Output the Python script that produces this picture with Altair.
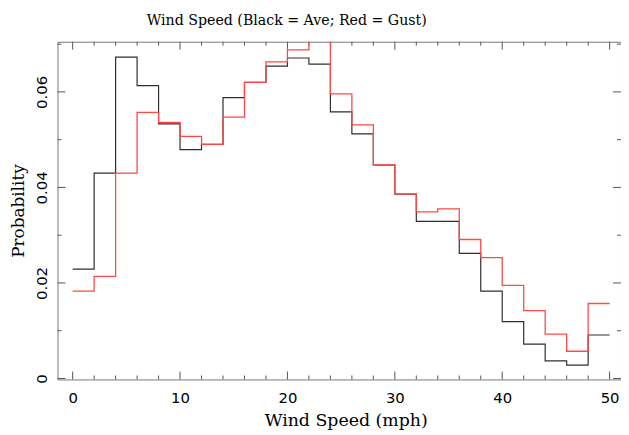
import altair as alt
import pandas as pd

# ---- data ----
bin_left = list(range(0, 50, 2))          # bin starts 0..48, width 2 mph
bin_end = 50
ave = [0.0229, 0.0430, 0.0673, 0.0613, 0.0533, 0.0479, 0.0490, 0.0588, 0.0620, 0.0654,
       0.0671, 0.0658, 0.0558, 0.0512, 0.0447, 0.0386, 0.0329, 0.0329, 0.0262, 0.0183,
       0.0119, 0.0072, 0.0037, 0.0028, 0.0091]
gust = [0.0183, 0.0214, 0.0430, 0.0557, 0.0536, 0.0507, 0.0490, 0.0547, 0.0620, 0.0663,
        0.0688, 0.0725, 0.0596, 0.0531, 0.0447, 0.0386, 0.0349, 0.0355, 0.0291, 0.0253,
        0.0195, 0.0142, 0.0093, 0.0057, 0.0157]

x_major = [0, 10, 20, 30, 40, 50]
x_minor = [v for v in range(0, 51, 2) if v % 10 != 0]
y_major = [0, 0.02, 0.04, 0.06]
y_minor = [0.01, 0.03, 0.05, 0.07]

W, H = 569, 341
xdom = [-1.41, 51.06]
ydom = [-0.0002, 0.0705]

def steps(vals):
    return pd.DataFrame({"x": bin_left + [bin_end], "p": vals + [vals[-1]]})

xs = alt.Scale(domain=xdom, nice=False, zero=False)
ys = alt.Scale(domain=ydom, nice=False, zero=False)

xaxis = alt.Axis(values=x_major, ticks=False, tickSize=0, domain=False, grid=False,
                 labelFont="DejaVu Sans", labelFontSize=15, labelColor="black",
                 labelBaseline="alphabetic", labelPadding=23,
                 title="Wind Speed (mph)", titleFont="DejaVu Serif", titleFontSize=17.5,
                 titleFontWeight="normal", titleColor="black",
                 titleBaseline="alphabetic", titleY=46.7, titleX=291, titleAlign="center")
yaxis = alt.Axis(values=y_major, format=".2~f", ticks=False, tickSize=0, domain=False, grid=False,
                 labelFont="DejaVu Sans", labelFontSize=15, labelColor="black",
                 labelAngle=270, labelAlign="center", labelBaseline="alphabetic", labelPadding=11,
                 title="Probability", titleFont="DejaVu Serif", titleFontSize=17,
                 titleFontWeight="normal", titleColor="black", titleAngle=270,
                 titleX=-34, titleY=H / 2, titleAlign="center", titleBaseline="alphabetic")

black = alt.Chart(steps(ave)).mark_line(interpolate="step-after", color="#2e2e2e",
                                        strokeWidth=1.2, clip=True).encode(
    x=alt.X("x:Q", scale=xs, axis=xaxis),
    y=alt.Y("p:Q", scale=ys, axis=yaxis),
)
red = alt.Chart(steps(gust)).mark_line(interpolate="step-after", color="#ff4848",
                                       strokeWidth=1.3, clip=True).encode(
    x=alt.X("x:Q", scale=xs),
    y=alt.Y("p:Q", scale=ys),
)

tick_color = "#555555"

def xticks(vals, length, top):
    d = pd.DataFrame({"x": vals})
    if top:
        y1, y2 = 0, length
    else:
        y1, y2 = H, H - length
    return alt.Chart(d).mark_rule(color=tick_color, strokeWidth=1).encode(
        x=alt.X("x:Q", scale=xs), y=alt.value(y1), y2=alt.value(y2))

def yticks(vals, length, right):
    d = pd.DataFrame({"p": vals})
    if right:
        x1, x2 = W, W - length
    else:
        x1, x2 = 0, length
    return alt.Chart(d).mark_rule(color=tick_color, strokeWidth=1).encode(
        y=alt.Y("p:Q", scale=ys), x=alt.value(x1), x2=alt.value(x2))

layers = [
    xticks(x_major, 8, False), xticks(x_minor, 4, False),
    xticks(x_major, 8, True), xticks(x_minor, 4, True),
    yticks(y_major, 8, False), yticks(y_minor, 4, False),
    yticks(y_major, 8, True), yticks(y_minor, 4, True),
    black, red,
]

chart = alt.layer(*layers).properties(
    width=W, height=H,
    title=alt.TitleParams("Wind Speed (Black = Ave; Red = Gust)", font="DejaVu Serif",
                          fontSize=14.3, fontWeight="normal", color="black",
                          anchor="middle", dx=-53, offset=2, baseline="alphabetic"),
    padding={"left": 50, "top": 32, "right": 0, "bottom": 52},
    autosize=alt.AutoSizeParams(type="none"),
).configure_view(stroke="#777777", strokeWidth=1)

chart.save("out.html", embed_options={"renderer": "svg", "actions": False})
